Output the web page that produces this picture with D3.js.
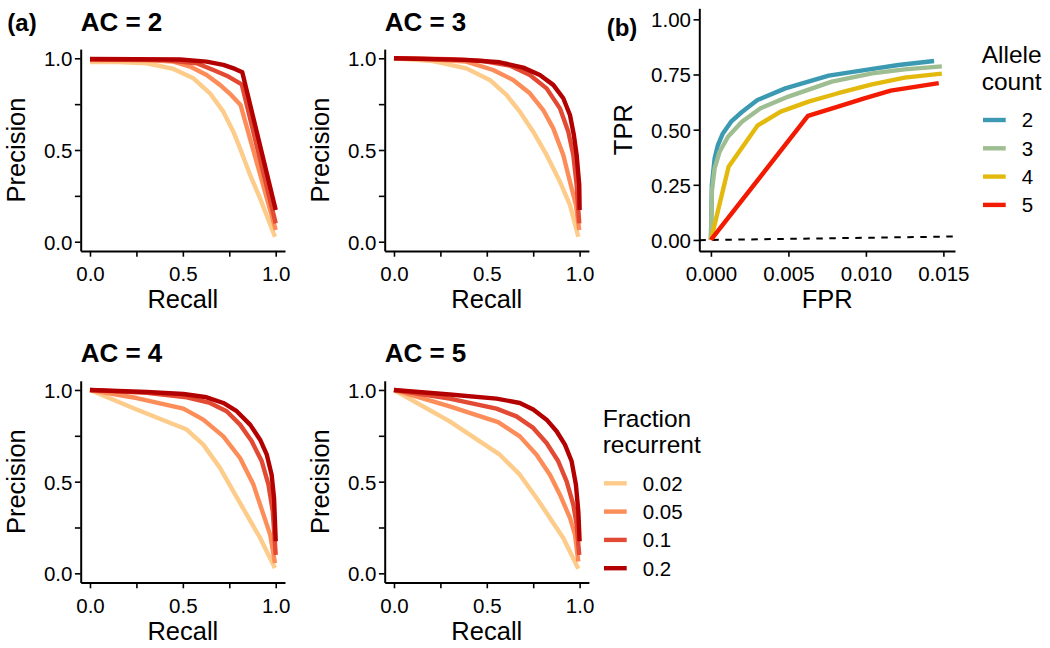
<!DOCTYPE html>
<html><head><meta charset="utf-8">
<script src="https://cdn.jsdelivr.net/npm/d3@7"></script>
<style>
body{margin:0;background:#fff}
text{font-family:'Liberation Sans',Arial,Helvetica,sans-serif;fill:#000}
</style>
</head><body>
<svg id="c" width="1050" height="648"></svg>
<script>
// ---------- data ----------
const fractions = ["0.02", "0.05", "0.1", "0.2"];
const fractionColors = ["#fdcc8a", "#fc8d59", "#e34a33", "#b30000"];
const alleleCounts = ["2", "3", "4", "5"];
const alleleColors = ["#3b9ab2", "#9ebe91", "#e4b90e", "#f21a00"];
const prTicks = [0, 0.25, 0.5, 0.75, 1];
const prTickLabels = ["0.0", "", "0.5", "", "1.0"];
const fprTicks = [0, 0.005, 0.010, 0.015];
const fprTickLabels = ["0.000", "0.005", "0.010", "0.015"];
const tprTicks = [0, 0.25, 0.5, 0.75, 1];
const tprTickLabels = ["0.00", "0.25", "0.50", "0.75", "1.00"];

// precision-recall curves, [recall, precision]
const ac2_f002 = [[0,0.98],[0.15,0.98],[0.305,0.973],[0.449,0.942],[0.557,0.891],[0.646,0.809],[0.718,0.709],[0.772,0.6],[0.808,0.509],[0.862,0.364],[0.916,0.236],[0.996,0.027]];
const ac2_f005 = [[0,0.99],[0.3,0.99],[0.449,0.982],[0.539,0.955],[0.628,0.909],[0.70,0.855],[0.76,0.8],[0.811,0.745],[1.0,0.064]];
const ac2_f01  = [[0,0.993],[0.4,0.99],[0.575,0.973],[0.664,0.936],[0.736,0.905],[0.817,0.858],[1.0,0.1]];
const ac2_f02  = [[0,0.996],[0.485,0.993],[0.628,0.982],[0.718,0.964],[0.781,0.942],[0.82,0.924],[1.0,0.173]];

const ac3_f002 = [[0,1],[0.21,0.985],[0.39,0.945],[0.516,0.882],[0.606,0.8],[0.678,0.709],[0.75,0.6],[0.822,0.473],[0.894,0.327],[0.948,0.2],[0.993,0.027]];
const ac3_f005 = [[0,1],[0.2,0.995],[0.39,0.982],[0.534,0.936],[0.642,0.882],[0.732,0.809],[0.804,0.718],[0.858,0.618],[0.912,0.473],[0.948,0.327],[0.98,0.2],[0.998,0.064]];
const ac3_f01  = [[0,1],[0.3,0.995],[0.48,0.985],[0.624,0.96],[0.732,0.909],[0.822,0.836],[0.894,0.727],[0.939,0.6],[0.966,0.473],[0.984,0.309],[0.998,0.1]];
const ac3_f02  = [[0,1],[0.39,0.991],[0.57,0.978],[0.696,0.949],[0.786,0.909],[0.858,0.855],[0.912,0.782],[0.948,0.691],[0.969,0.582],[0.984,0.473],[0.998,0.309],[1.0,0.173]];

const ac4_f002 = [[0,1],[0.251,0.893],[0.521,0.784],[0.61,0.702],[0.7,0.575],[0.772,0.447],[0.844,0.32],[0.916,0.193],[0.996,0.029]];
const ac4_f005 = [[0,1],[0.251,0.956],[0.503,0.898],[0.61,0.838],[0.718,0.747],[0.808,0.629],[0.88,0.484],[0.934,0.32],[0.97,0.211],[0.996,0.056]];
const ac4_f01  = [[0,1],[0.305,0.984],[0.521,0.96],[0.646,0.929],[0.736,0.884],[0.808,0.811],[0.871,0.72],[0.925,0.611],[0.961,0.484],[0.984,0.338],[1.0,0.1]];
const ac4_f02  = [[0,1],[0.305,0.989],[0.503,0.978],[0.628,0.96],[0.718,0.929],[0.79,0.884],[0.862,0.811],[0.916,0.729],[0.952,0.647],[0.978,0.538],[0.991,0.411],[1.0,0.175]];

const ac5_f002 = [[0,1],[0.3,0.829],[0.57,0.647],[0.678,0.538],[0.768,0.411],[0.84,0.302],[0.912,0.193],[0.993,0.025]];
const ac5_f005 = [[0,1],[0.3,0.911],[0.561,0.825],[0.678,0.747],[0.768,0.647],[0.84,0.538],[0.894,0.429],[0.948,0.302],[0.975,0.211],[0.993,0.065]];
const ac5_f01  = [[0,1],[0.3,0.953],[0.552,0.898],[0.66,0.856],[0.75,0.793],[0.822,0.711],[0.885,0.611],[0.93,0.502],[0.966,0.375],[0.984,0.265],[0.998,0.1]];
const ac5_f02  = [[0,1],[0.3,0.975],[0.552,0.953],[0.678,0.929],[0.75,0.893],[0.822,0.838],[0.876,0.775],[0.921,0.702],[0.957,0.611],[0.98,0.484],[0.993,0.338],[1.0,0.175]];

// ROC curves, [FPR, TPR]
const roc_ac2 = [[0,0],[0.00006,0.25],[0.00024,0.37],[0.00045,0.43],[0.00077,0.483],[0.0013,0.536],[0.002,0.58],[0.003,0.634],[0.0048,0.687],[0.0076,0.745],[0.0099,0.77],[0.0121,0.793],[0.0144,0.811]];
const roc_ac3 = [[0,0],[0.00006,0.22],[0.00024,0.325],[0.00056,0.4],[0.0011,0.468],[0.002,0.536],[0.0032,0.597],[0.005,0.65],[0.0078,0.718],[0.0104,0.755],[0.0125,0.773],[0.0149,0.787]];
const roc_ac4 = [[0,0],[0.00114,0.332],[0.003,0.518],[0.0045,0.582],[0.0063,0.627],[0.0082,0.665],[0.0104,0.705],[0.0125,0.736],[0.0149,0.754]];
const roc_ac5 = [[0,0],[0.00626,0.562],[0.0082,0.604],[0.0099,0.642],[0.0116,0.677],[0.0147,0.711]];

// ---------- assemble ----------
const prPanels = [
  {title: "AC = 2", series: [ac2_f002, ac2_f005, ac2_f01, ac2_f02]},
  {title: "AC = 3", series: [ac3_f002, ac3_f005, ac3_f01, ac3_f02]},
  {title: "AC = 4", series: [ac4_f002, ac4_f005, ac4_f01, ac4_f02]},
  {title: "AC = 5", series: [ac5_f002, ac5_f005, ac5_f01, ac5_f02]}
];
const rocSeries = [roc_ac2, roc_ac3, roc_ac4, roc_ac5];

// ---------- layout ----------
const svg = d3.select("#c");
const FS_TICK = 20.5, FS_TITLE = 25.5, FS_HEAD = 26, FS_TAG = 24, FS_LEG = 24.5;
const LW = 4.4;
const panelBoxes = [
  {l: 80.7, r: 285.0, t: 49.1, b: 250.9},
  {l: 384.7, r: 588.9, t: 49.1, b: 250.9},
  {l: 80.7, r: 285.0, t: 380.8, b: 582.5},
  {l: 384.7, r: 588.9, t: 380.8, b: 582.5}
];

function styleAxis(g) {
  g.select(".domain").attr("stroke", "#000").attr("stroke-width", 2);
  g.selectAll(".tick line").attr("stroke", "#000").attr("stroke-width", 1.6);
  g.selectAll(".tick text").attr("font-size", FS_TICK).attr("fill", "#000")
    .attr("font-family", "'Liberation Sans',Arial,sans-serif");
}

function drawAxes(box, x, y, xTicks, xLabels, yTicks, yLabels, xTitle, yTitle, yTitleX) {
  const gx = svg.append("g").attr("transform", `translate(0,${box.b})`)
    .call(d3.axisBottom(x).tickValues(xTicks).tickFormat((d, i) => xLabels[i]).tickSize(5.8).tickSizeOuter(0));
  styleAxis(gx);
  gx.selectAll(".tick text").attr("y", 30).attr("dy", null);
  const gy = svg.append("g").attr("transform", `translate(${box.l},0)`)
    .call(d3.axisLeft(y).tickValues(yTicks).tickFormat((d, i) => yLabels[i]).tickSize(5.8).tickSizeOuter(0));
  styleAxis(gy);
  gy.selectAll(".tick text").attr("x", -8.3).attr("dy", "0.36em");
  svg.append("text").attr("x", (box.l + box.r) / 2).attr("y", box.b + 57.4)
    .attr("text-anchor", "middle").attr("font-size", FS_TITLE).text(xTitle);
  svg.append("text").attr("transform", `translate(${yTitleX},${(box.t + box.b) / 2}) rotate(-90)`)
    .attr("text-anchor", "middle").attr("font-size", FS_TITLE).text(yTitle);
}

// PR panels
prPanels.forEach((p, i) => {
  const box = panelBoxes[i];
  const x = d3.scaleLinear().domain([-0.05, 1.05]).range([box.l, box.r]);
  const y = d3.scaleLinear().domain([-0.05, 1.05]).range([box.b, box.t]);
  const line = d3.line().x(d => x(d[0])).y(d => y(d[1]));
  p.series.forEach((s, j) => {
    svg.append("path").datum(s).attr("d", line).attr("fill", "none")
      .attr("stroke", fractionColors[j]).attr("stroke-width", LW)
      .attr("stroke-linejoin", "round").attr("stroke-linecap", "butt");
  });
  drawAxes(box, x, y, prTicks, prTickLabels, prTicks, prTickLabels, "Recall", "Precision", box.l - 56);
  svg.append("text").attr("x", box.l).attr("y", box.t - 18.6)
    .attr("font-size", FS_HEAD).attr("font-weight", "bold").text(p.title);
});

// ROC panel
{
  const box = {l: 699.3, r: 955, t: 8.3, b: 251};
  const x = d3.scaleLinear().domain([-0.00075, 0.01575]).range([box.l, box.r]);
  const y = d3.scaleLinear().domain([-0.05, 1.05]).range([box.b, box.t]);
  const line = d3.line().x(d => x(d[0])).y(d => y(d[1]));
  const dom = x.domain();
  svg.append("path").datum([[dom[0], dom[0]], [dom[1], dom[1]]]).attr("d", line)
    .attr("fill", "none").attr("stroke", "#000").attr("stroke-width", 2)
    .attr("stroke-dasharray", "6.5,6.5");
  rocSeries.forEach((s, j) => {
    svg.append("path").datum(s).attr("d", line).attr("fill", "none")
      .attr("stroke", alleleColors[j]).attr("stroke-width", LW)
      .attr("stroke-linejoin", "round").attr("stroke-linecap", "butt");
  });
  drawAxes(box, x, y, fprTicks, fprTickLabels, tprTicks, tprTickLabels, "FPR", "TPR", box.l - 67.6);
}

// tags
svg.append("text").attr("x", 7.3).attr("y", 30.5).attr("font-size", FS_TAG).attr("font-weight", "bold").text("(a)");
svg.append("text").attr("x", 606.7).attr("y", 35.5).attr("font-size", FS_TAG).attr("font-weight", "bold").text("(b)");

// legends
function legend(x0, titleLines, titleY, keyY0, labels, colors) {
  titleLines.forEach((t, i) => {
    svg.append("text").attr("x", x0).attr("y", titleY + i * 26.7).attr("font-size", FS_LEG).text(t);
  });
  labels.forEach((lab, i) => {
    const cy = keyY0 + i * 28.3;
    svg.append("line").attr("x1", x0 + 1.3).attr("x2", x0 + 24).attr("y1", cy).attr("y2", cy)
      .attr("stroke", colors[i]).attr("stroke-width", LW);
    svg.append("text").attr("x", x0 + 40).attr("y", cy).attr("dy", "0.36em")
      .attr("font-size", FS_TICK).text(lab);
  });
}
legend(981.7, ["Allele", "count"], 63.3, 120, alleleCounts, alleleColors);
legend(602.7, ["Fraction", "recurrent"], 426.7, 483.3, fractions, fractionColors);
</script>
</body></html>
